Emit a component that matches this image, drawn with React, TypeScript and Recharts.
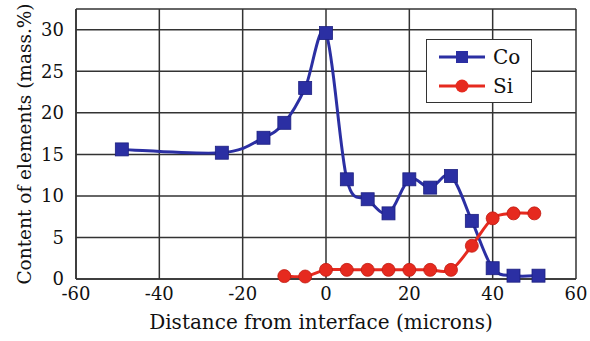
import { CartesianGrid, Line, LineChart, XAxis, YAxis } from 'recharts'

const coX = [-49, -25, -15, -10, -5, 0, 5, 10, 15, 20, 25, 30, 35, 40, 45, 51]
const coY = [15.6, 15.2, 17.0, 18.8, 23.0, 29.6, 12.0, 9.6, 7.9, 12.0, 11.0, 12.4, 7.0, 1.3, 0.4, 0.4]
const siX = [-10, -5, 0, 5, 10, 15, 20, 25, 30, 35, 40, 45, 50]
const siY = [0.35, 0.3, 1.1, 1.1, 1.1, 1.1, 1.1, 1.1, 1.1, 4.0, 7.3, 7.9, 7.9]
const xTicks = [-60, -40, -20, 0, 20, 40, 60]
const yTicks = [0, 5, 10, 15, 20, 25, 30]

const coData = coX.map((x, i) => ({ x, y: coY[i] }))
const siData = siX.map((x, i) => ({ x, y: siY[i] }))

const BLUE = '#2b2fa3'
const RED = '#e62a1f'
const FONT = "'DejaVu Serif', serif"

// Excel-like smoothing (Catmull-Rom through the points)
const smoothCurve = (context: any) => {
  let pts: [number, number][] = []
  return {
    areaStart() {},
    areaEnd() {},
    lineStart() {
      pts = []
    },
    lineEnd() {
      if (!pts.length) return
      context.moveTo(pts[0][0], pts[0][1])
      for (let i = 0; i < pts.length - 1; i++) {
        const p0 = pts[Math.max(i - 1, 0)]
        const p1 = pts[i]
        const p2 = pts[i + 1]
        const p3 = pts[Math.min(i + 2, pts.length - 1)]
        context.bezierCurveTo(
          p1[0] + (p2[0] - p0[0]) / 6,
          p1[1] + (p2[1] - p0[1]) / 6,
          p2[0] - (p3[0] - p1[0]) / 6,
          p2[1] - (p3[1] - p1[1]) / 6,
          p2[0],
          p2[1]
        )
      }
    },
    point(x: number, y: number) {
      pts.push([+x, +y])
    },
  }
}

const SquareDot = (props: any) => {
  const { cx, cy } = props
  if (cx == null || cy == null) return null
  return <rect x={cx - 6.5} y={cy - 6.5} width={13} height={13} fill={BLUE} stroke="#1d2080" strokeWidth={0.8} />
}

const CircleDot = (props: any) => {
  const { cx, cy } = props
  if (cx == null || cy == null) return null
  return <circle cx={cx} cy={cy} r={6.5} fill={RED} stroke="#c01a10" strokeWidth={0.8} />
}

const LegendBox = () => (
  <div
    style={{
      position: 'absolute',
      left: 426,
      top: 39,
      width: 106,
      height: 64,
      border: '1.5px solid #333',
      background: '#fff',
      fontFamily: FONT,
      fontSize: 20,
      color: '#111',
      boxSizing: 'border-box',
      paddingTop: 2,
    }}
  >
    {[
      { name: 'Co', color: BLUE, shape: 'square' },
      { name: 'Si', color: RED, shape: 'circle' },
    ].map((item) => (
      <div key={item.name} style={{ display: 'flex', alignItems: 'center', height: 29 }}>
        <svg width={56} height={20} style={{ marginLeft: 8 }}>
          <line x1={4} y1={10} x2={50} y2={10} stroke={item.color} strokeWidth={3} />
          {item.shape === 'square' ? (
            <rect x={21} y={4} width={12} height={12} fill={item.color} />
          ) : (
            <circle cx={27} cy={10} r={6.5} fill={item.color} />
          )}
        </svg>
        <span style={{ marginLeft: 2 }}>{item.name}</span>
      </div>
    ))}
  </div>
)

export default function App() {
  return (
    <div
      style={{
        position: 'fixed',
        left: 0,
        top: 0,
        background: '#fff',
        width: 590,
        height: 341,
        overflow: 'hidden',
        fontFamily: FONT,
      }}
    >
      <LineChart
        width={590}
        height={341}
        margin={{ top: 9, right: 14, bottom: 0, left: 0 }}
        style={{ fontFamily: FONT }}
      >
        <CartesianGrid stroke="#333" strokeWidth={1.5} />
        <XAxis
          type="number"
          dataKey="x"
          domain={[-60, 60]}
          ticks={xTicks}
          interval={0}
          allowDuplicatedCategory={false}
          axisLine={{ stroke: '#333', strokeWidth: 1.5 }}
          tickLine={false}
          tick={{ fill: '#111', fontSize: 18, fontFamily: FONT }}
          tickMargin={2}
          height={62}
          label={{
            value: 'Distance from interface (microns)',
            position: 'insideBottom',
            offset: 12,
            dx: -5,
            fill: '#111',
            fontSize: 20,
            fontFamily: FONT,
          }}
        />
        <YAxis
          type="number"
          dataKey="y"
          domain={[0, 32.5]}
          ticks={yTicks}
          interval={0}
          width={76}
          axisLine={{ stroke: '#333', strokeWidth: 1.5 }}
          tickLine={false}
          tick={{ fill: '#111', fontSize: 18, fontFamily: FONT }}
          tickMargin={6}
          label={{
            value: 'Content of elements (mass.%)',
            angle: -90,
            position: 'insideLeft',
            offset: 24,
            style: { textAnchor: 'middle' },
            fill: '#111',
            fontSize: 18.5,
            fontFamily: FONT,
          }}
        />
        <Line
          data={coData}
          dataKey="y"
          name="Co"
          type={smoothCurve as any}
          stroke={BLUE}
          strokeWidth={3}
          dot={<SquareDot />}
          activeDot={false}
          isAnimationActive={false}
        />
        <Line
          data={siData}
          dataKey="y"
          name="Si"
          type={smoothCurve as any}
          stroke={RED}
          strokeWidth={3}
          dot={<CircleDot />}
          activeDot={false}
          isAnimationActive={false}
        />
      </LineChart>
      <LegendBox />
    </div>
  )
}
